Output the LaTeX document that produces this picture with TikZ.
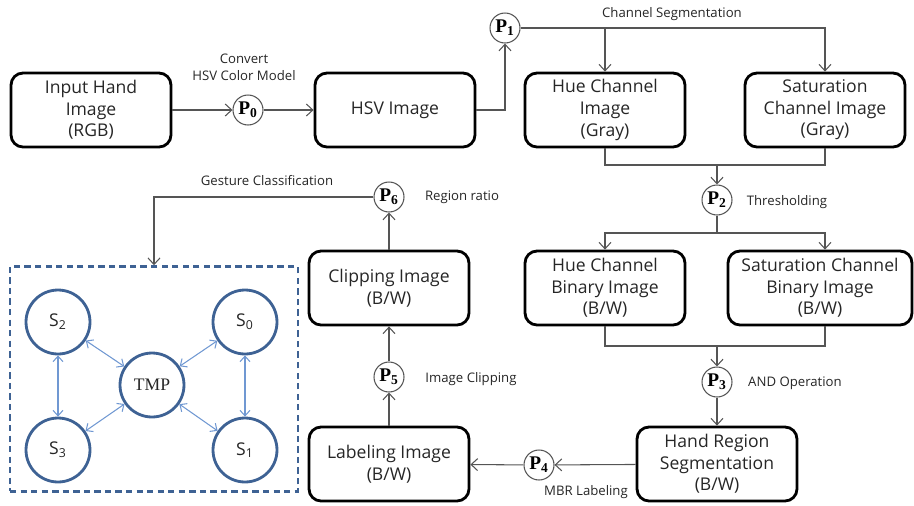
\documentclass[tikz,border=0pt]{standalone}
\usepackage{fontspec}
\setmainfont{Open Sans}
\newfontfamily\serifP{Liberation Serif}
\usetikzlibrary{arrows.meta}

\definecolor{stateblue}{RGB}{62,98,148}
\definecolor{linkblue}{RGB}{112,152,210}
\definecolor{flowgray}{RGB}{85,85,85}

\tikzset{
	imgbox/.style={draw, line width=1.6pt, rounded corners=0.24cm, minimum width=3.2cm, minimum height=1.48cm, align=center, inner sep=1pt, text=black!85, font=\fontsize{10}{12.3}\selectfont},
	proc/.style={draw=flowgray, fill=white, circle, line width=0.6pt, minimum size=0.6cm, inner sep=0pt, font=\serifP\bfseries\fontsize{11}{11}\selectfont},
	flow/.style={draw=flowgray, line width=0.6pt},
	flowarrow/.style={flow, -{Straight Barb[length=1.3mm,width=2.4mm]}},
	steplabel/.style={align=center, text=black!85, font=\fontsize{7.5}{9.5}\selectfont},
	state/.style={draw=stateblue, circle, line width=1.6pt, minimum size=1.28cm, inner sep=0pt, text=black!85, font=\fontsize{10}{12}\selectfont},
	link/.style={draw=linkblue, line width=0.6pt, {Straight Barb[length=1.1mm,width=2mm]}-{Straight Barb[length=1.1mm,width=2mm]}},
}

\begin{document}
\begin{tikzpicture}[x=0.02cm, y=-0.02cm]
			%%%%% START %%%%%
			\useasboundingbox (0, 0) rectangle (914, 505);
			
			% first row
			\node[imgbox] (input) at (91, 110) {Input Hand\\Image\\(RGB)};
			\node[proc] (p0) at (248, 110) {P\textsubscript{0}};
			\node[imgbox] (hsv) at (395, 110) {HSV Image};
			\node[proc] (p1) at (505, 28) {P\textsubscript{1}};
			\node[imgbox] (hue) at (605, 110) {Hue Channel\\Image\\(Gray)};
			\node[imgbox] (sat) at (825, 110) {Saturation\\Channel Image\\(Gray)};
			
			% second row
			\node[proc] (p2) at (717, 200) {P\textsubscript{2}};
			\node[imgbox] (hueb) at (605, 288) {Hue Channel\\Binary Image\\(B/W)};
			\node[imgbox, minimum width=3.68cm] (satb) at (820, 288) {Saturation Channel\\Binary Image\\(B/W)};
			\node[imgbox] (clip) at (389, 288) {Clipping Image\\(B/W)};
			\node[proc] (p6) at (389, 197) {P\textsubscript{6}};
			
			% third row
			\node[proc] (p3) at (717, 382) {P\textsubscript{3}};
			\node[imgbox] (hand) at (717, 464) {Hand Region\\Segmentation\\(B/W)};
			\node[proc] (p4) at (539, 465) {P\textsubscript{4}};
			\node[imgbox] (lab) at (389, 464) {Labeling Image\\(B/W)};
			\node[proc] (p5) at (389, 377) {P\textsubscript{5}};
			
			% step labels
			\node[steplabel] (lconv) at (244, 67) {Convert\\HSV Color Model};
			\node[steplabel] (lseg) at (672, 14) {Channel Segmentation};
			\node[steplabel] (lthr) at (787, 202) {Thresholding};
			\node[steplabel] (land) at (795, 383) {AND Operation};
			\node[steplabel] (lmbr) at (586, 492) {MBR Labeling};
			\node[steplabel] (lclp) at (471, 379) {Image Clipping};
			\node[steplabel] (lrat) at (462, 197) {Region ratio};
			\node[steplabel] (lges) at (267, 181) {Gesture Classification};
			
			% merge points
			\coordinate (m1) at (717, 165);
			\coordinate (m2) at (717, 233);
			\coordinate (m3) at (717, 346);
			
			% flow
			\draw[flowarrow] (input) -- (p0);
			\draw[flowarrow] (p0) -- (hsv);
			\draw[flowarrow] (hsv.east) -| (p1.south);
			\draw[flowarrow] (p1.east) -| (sat.north);
			\draw[flowarrow] (p1 -| hue) -- (hue.north);
			\draw[flow] (hue.south) |- (m1) -| (sat.south);
			\draw[flowarrow] (m1) -- (p2);
			\draw[flow] (p2) -- (m2);
			\draw[flowarrow] (m2) -| (hueb.north);
			\draw[flowarrow] (m2) -| ([xshift=0.1cm]satb.north);
			\draw[flow] (hueb.south) |- (m3) -| ([xshift=0.1cm]satb.south);
			\draw[flowarrow] (m3) -- (p3);
			\draw[flowarrow] (p3) -- (hand);
			\draw[flowarrow] (hand) -- (p4);
			\draw[flowarrow] (p4) -- (lab);
			\draw[flowarrow] (lab) -- (p5);
			\draw[flowarrow] (p5) -- (clip);
			\draw[flowarrow] (clip) -- (p6);
			
			% gesture classifier
			\node[draw=stateblue, line width=1.5pt, dash pattern=on 3.6pt off 2.4pt, minimum width=5.76cm, minimum height=4.5cm] (classifier) at (154, 379) {};
			\draw[flowarrow] (p6.west) -| (classifier.north);
			
			\node[state] (s2) at (58, 322) {S\textsubscript{2}};
			\node[state] (s0) at (245, 322) {S\textsubscript{0}};
			\node[state, font=\serifP\fontsize{10}{12}\selectfont] (tmp) at (152, 385) {TMP};
			\node[state] (s3) at (58, 450) {S\textsubscript{3}};
			\node[state] (s1) at (245, 450) {S\textsubscript{1}};
			
			\draw[link] (s2) -- (s3);
			\draw[link] (s0) -- (s1);
			\draw[link] (s2) -- (tmp);
			\draw[link] (s0) -- (tmp);
			\draw[link] (s3) -- (tmp);
			\draw[link] (s1) -- (tmp);
			%%%%% END %%%%%
\end{tikzpicture}
\end{document}
